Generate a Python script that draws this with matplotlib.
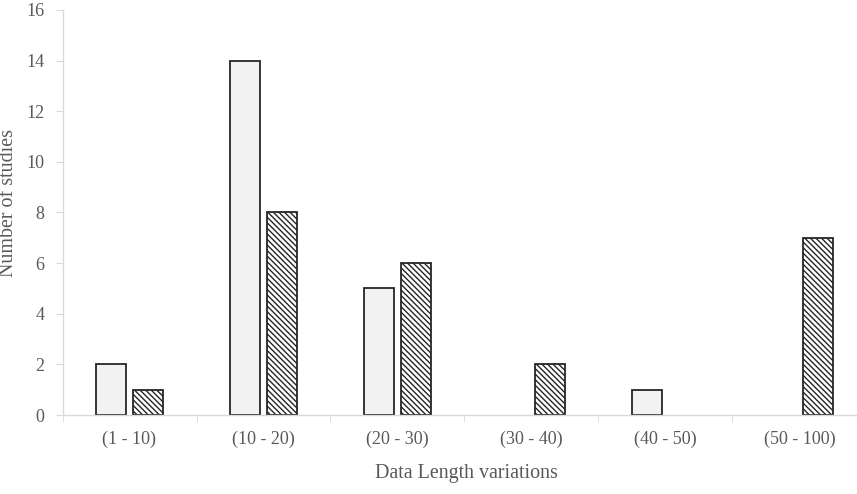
import matplotlib
matplotlib.use("Agg")
import matplotlib.pyplot as plt
import numpy as np

categories = ["(1 - 10)", "(10 - 20)", "(20 - 30)", "(30 - 40)", "(40 - 50)", "(50 - 100)"]
series_a = [2, 14, 5, 0, 1, 0]
series_b = [1, 8, 6, 2, 0, 7]

plt.rcParams['font.family'] = ['Liberation Serif', 'DejaVu Serif']
plt.rcParams['hatch.linewidth'] = 1.0

fig = plt.figure(figsize=(8.57, 4.94), dpi=100)
# axes run slightly past the right edge, like the original
ax = fig.add_axes([62.5 / 857, 79 / 494, 804 / 857, 405 / 494])

x = np.arange(len(categories))
w = 0.224
off = 0.138
for xi, v in zip(x, series_a):
    if v > 0:
        ax.bar(xi - off, v, width=w, color='#f2f2f2', edgecolor='#262626', linewidth=1.3, zorder=2)
for xi, v in zip(x, series_b):
    if v > 0:
        ax.bar(xi + off, v, width=w, color='white', edgecolor='#262626', linewidth=1.3,
               hatch='\\\\\\\\\\\\', zorder=2)

ax.set_xlim(-0.5, 5.5)
ax.set_ylim(0, 16)
ax.set_yticks(range(0, 17, 2))
ax.set_xticks(x)
ax.set_xticklabels(categories)
ax.set_xticks(np.arange(-0.5, 6, 1), minor=True)
ax.tick_params(axis='x', which='major', length=0, pad=11, labelsize=13, labelcolor='#595959')
ax.tick_params(axis='x', which='minor', length=5, color='#d9d9d9', direction='out')
ax.tick_params(axis='y', length=5, color='#d9d9d9', labelsize=13, labelcolor='#595959', pad=8)

for s in ['top', 'right']:
    ax.spines[s].set_visible(False)
for s in ['left', 'bottom']:
    ax.spines[s].set_color('#d9d9d9')
    ax.spines[s].set_linewidth(1)

ax.set_xlabel('Data Length variations', fontsize=14.4, color='#595959')
ax.xaxis.set_label_coords((466 - 62.5) / 804, -(464 - 415) / 405)
ax.set_ylabel('Number of studies', fontsize=14.4, color='#595959')
ax.yaxis.set_label_coords(-(62.5 - 18) / 804, (415 - 203) / 405)

fig.savefig('out.png', dpi=100)
